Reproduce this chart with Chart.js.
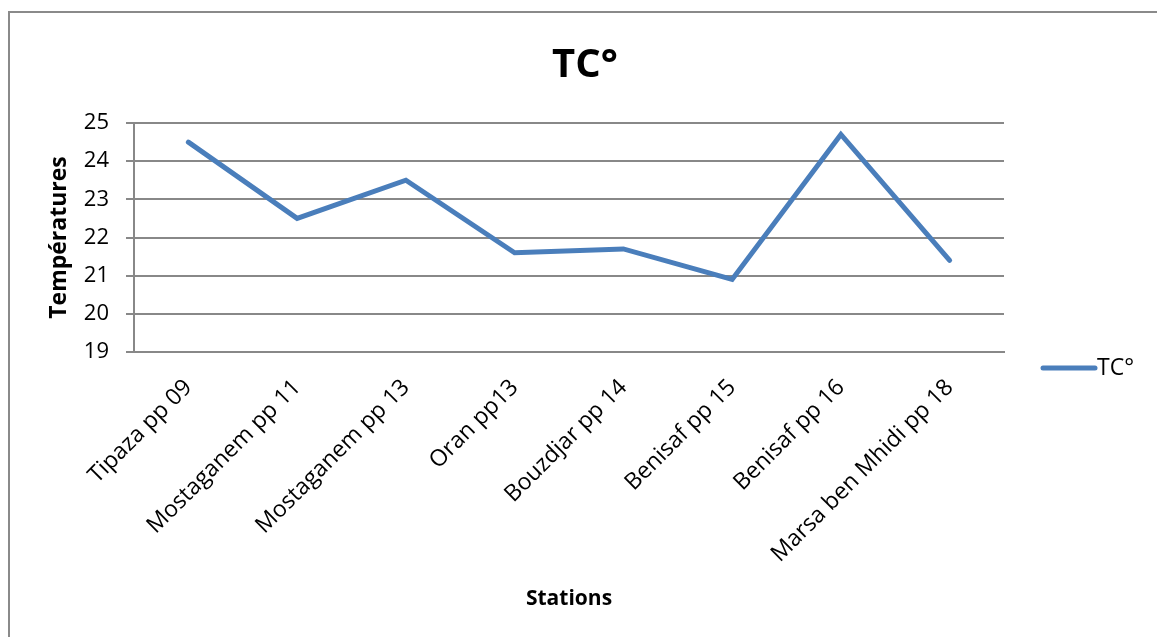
<!DOCTYPE html>
<html>
<head>
<meta charset="utf-8">
<script src="https://cdn.jsdelivr.net/npm/chart.js@4/dist/chart.umd.min.js"></script>
<style>
  html, body { margin: 0; padding: 0; background: #fff; }
  #wrap { position: relative; width: 1157px; height: 637px; overflow: hidden; }
  #frame { position: absolute; left: 8px; top: 11px; width: 1200px; height: 700px;
           border-left: 2px solid #8a8a8a; border-top: 2px solid #8a8a8a; }
  #c { position: absolute; left: 0; top: 0; }
</style>
</head>
<body>
<div id="wrap">
  <div id="frame"></div>
  <canvas id="c" width="1157" height="637"></canvas>
</div>
<script>
// Surface water temperature per station
const stations = [
  'Tipaza pp 09', 'Mostaganem pp 11', 'Mostaganem pp 13', 'Oran pp13',
  'Bouzdjar pp 14', 'Benisaf pp 15', 'Benisaf pp 16', 'Marsa ben Mhidi pp 18'
];
const temperatures = [24.5, 22.5, 23.5, 21.6, 21.7, 20.9, 24.7, 21.4];
const seriesName = 'TC°';
const chartTitle = 'TC°';
const yTicks = [19, 20, 21, 22, 23, 24, 25];

const LINE_COLOR = '#4a7ebb';
const GRID_COLOR = '#888888';
const FONT = "'Open Sans', sans-serif";

Chart.defaults.font.family = FONT;
Chart.defaults.color = '#000';

// Title centred over the whole frame, and the legend entry to the right of the plot
const headerAndLegend = {
  id: 'headerAndLegend',
  afterDraw(chart) {
    const ctx = chart.ctx;
    const area = chart.chartArea;
    ctx.save();
    ctx.fillStyle = '#000';
    ctx.font = 'bold 40px ' + FONT;
    ctx.textAlign = 'center';
    ctx.textBaseline = 'alphabetic';
    ctx.fillText(chartTitle, 585, 77);

    const y = area.bottom + 16;
    const x0 = area.right + 39;
    ctx.strokeStyle = LINE_COLOR;
    ctx.lineWidth = 5;
    ctx.lineCap = 'round';
    ctx.beginPath();
    ctx.moveTo(x0, y);
    ctx.lineTo(x0 + 52, y);
    ctx.stroke();
    ctx.font = '23px ' + FONT;
    ctx.textBaseline = 'middle';
    ctx.textAlign = 'left';
    ctx.fillText(seriesName, x0 + 54, y);
    ctx.restore();
  }
};

new Chart(document.getElementById('c'), {
  type: 'line',
  data: {
    labels: stations,
    datasets: [{
      label: seriesName,
      data: temperatures,
      borderColor: LINE_COLOR,
      backgroundColor: LINE_COLOR,
      borderWidth: 5,
      borderCapStyle: 'round',
      pointRadius: 0,
      pointHoverRadius: 0,
      tension: 0,
      fill: false
    }]
  },
  options: {
    responsive: false,
    animation: false,
    devicePixelRatio: 1,
    layout: { padding: { left: 0, top: 123, right: 153, bottom: 0 } },
    plugins: {
      legend: { display: false },
      tooltip: { enabled: false },
      title: { display: false }
    },
    scales: {
      x: {
        type: 'category',
        offset: true,
        grid: { display: false, drawTicks: false },
        border: { display: true, color: GRID_COLOR, width: 2 },
        ticks: {
          autoSkip: false,
          maxRotation: 45,
          minRotation: 45,
          padding: 22,
          font: { size: 23, family: FONT },
          color: '#000'
        },
        title: {
          display: true,
          text: 'Stations',
          font: { size: 21, weight: 'bold', family: FONT },
          color: '#000',
          padding: { top: 0, bottom: 25 }
        },
        afterFit(scale) { scale.height = 285; }
      },
      y: {
        min: yTicks[0],
        max: yTicks[yTicks.length - 1],
        afterBuildTicks(scale) { scale.ticks = yTicks.map(v => ({ value: v })); },
        grid: { color: GRID_COLOR, lineWidth: 2, drawTicks: true, tickLength: 8 },
        border: { display: true, color: GRID_COLOR, width: 2 },
        ticks: {
          padding: 17,
          font: { size: 22, family: FONT },
          color: '#000'
        },
        title: {
          display: true,
          text: 'Températures',
          font: { size: 23, weight: 'bold', family: FONT },
          color: '#000',
          padding: { top: 46, bottom: 0 }
        },
        afterFit(scale) { scale.width = 134; }
      }
    }
  },
  plugins: [headerAndLegend]
});
</script>
</body>
</html>
